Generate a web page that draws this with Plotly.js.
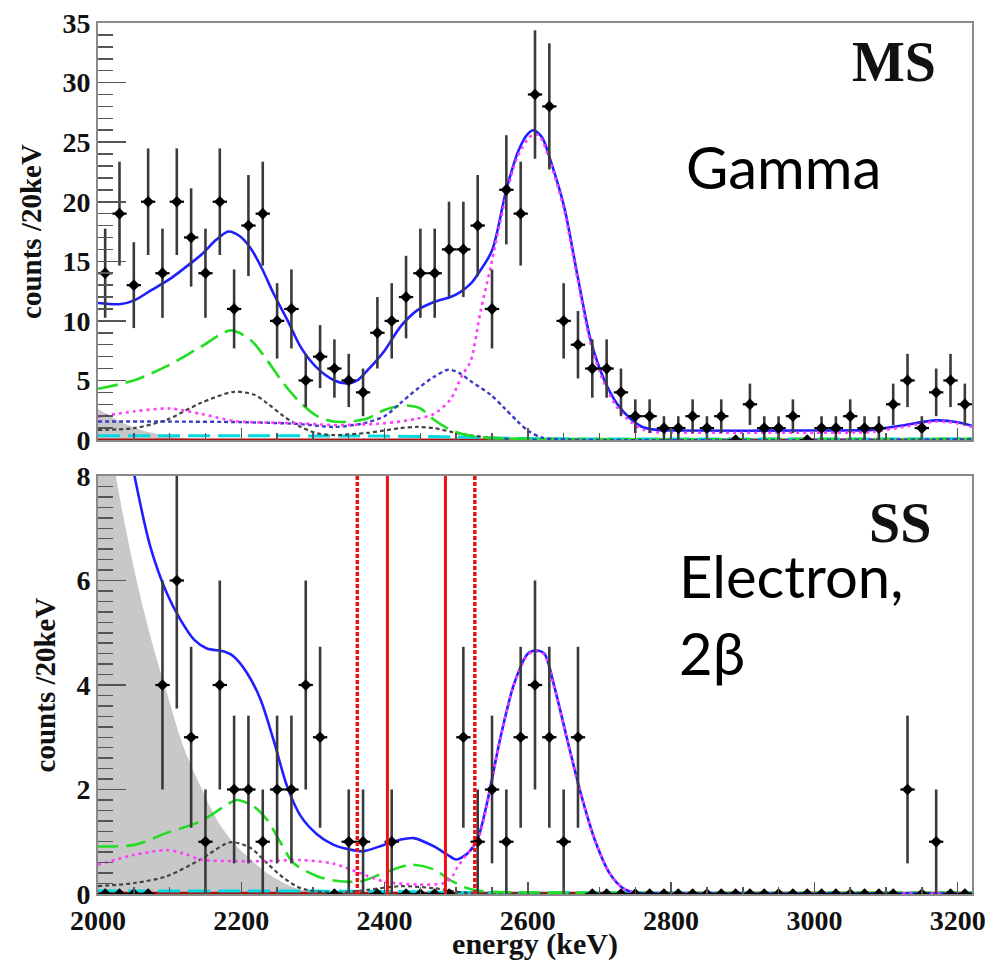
<!DOCTYPE html>
<html><head><meta charset="utf-8">
<script src="https://cdn.plot.ly/plotly-3.0.1.min.js"></script>
<style>html,body{margin:0;padding:0;background:#fff;} #chart{width:990px;height:961px;}</style>
</head><body><div id="chart"></div>
<script>
// ---- data: 20 keV bins ----
const binCenters = [2010,2030,2050,2070,2090,2110,2130,2150,2170,2190,2210,2230,2250,2270,2290,2310,2330,2350,2370,2390,2410,2430,2450,2470,2490,2510,2530,2550,2570,2590,2610,2630,2650,2670,2690,2710,2730,2750,2770,2790,2810,2830,2850,2870,2890,2910,2930,2950,2970,2990,3010,3030,3050,3070,3090,3110,3130,3150,3170,3190,3210];
const msCounts = [14,19,13,20,14,20,17,14,20,11,18,19,10,11,5,7,6,5,4,9,10,12,14,14,16,16,18,11,21,19,29,28,10,8,6,6,4,2,2,1,1,2,1,2,0,3,1,1,2,0,1,1,2,1,1,3,5,1,4,5,3];
const ssCounts = [0,0,0,0,4,6,3,1,4,2,2,1,2,2,4,3,0,1,1,0,1,0,0,0,0,3,1,2,1,3,4,3,1,3,0,0,0,0,0,0,0,0,0,0,0,0,0,0,0,0,0,0,0,0,0,0,2,0,1,0,0];

// ---- MS fit components ----
const msTotalE = [2000,2030,2050,2075,2100,2120,2145,2165,2182,2198,2213,2228,2245,2265,2283,2305,2330,2348,2362,2377,2400,2422,2446,2470,2492,2505,2520,2530,2550,2570,2587,2600,2608,2620,2632,2651,2669,2688,2707,2725,2744,2762,2780,2800,3000,3080,3120,3170,3200,3220];
const msTotalV = [11.5,11.4,11.7,12.6,13.5,14.4,15.6,16.8,17.5,17.1,16.1,14.5,12.3,10.0,7.8,6.1,5.0,4.75,5.0,5.9,7.5,9.5,10.9,11.6,12.0,12.4,13.1,13.9,15.9,21.0,24.3,25.7,26.0,25.4,23.4,19.5,13.9,8.3,5.0,3.0,1.75,1.05,0.85,0.8,0.8,0.85,1.2,1.65,1.5,1.2];
const msGammaE = [2000,2050,2100,2143,2190,2250,2283,2329,2399,2446,2469,2492,2508,2520,2534,2548,2567,2585,2604,2615,2632,2651,2669,2688,2707,2725,2744,2762,2780,2800,3000,3080,3120,3170,3200,3220];
const msGammaV = [1.95,2.4,2.65,2.2,1.6,1.45,1.4,1.26,1.4,1.8,2.2,3.4,5.4,6.6,10.8,14.5,19.8,23.7,25.5,25.6,23.2,19.2,13.6,8.0,4.7,2.7,1.5,0.85,0.65,0.62,0.62,0.68,1.05,1.55,1.4,1.1];
const msBlueDotE = [2000,2100,2200,2280,2330,2370,2400,2422,2446,2469,2489,2505,2520,2548,2567,2585,2601,2620,2650,3220];
const msBlueDotV = [1.55,1.55,1.5,1.35,1.1,1.4,2.0,3.1,4.3,5.3,5.9,5.6,4.95,3.8,2.7,1.6,0.75,0.2,0.05,0.05];
const msGreenE = [2000,2050,2096,2143,2185,2213,2236,2259,2283,2306,2329,2352,2376,2399,2427,2450,2469,2492,2516,2540,2600,3220];
const msGreenV = [4.3,5.0,6.2,7.8,9.2,8.4,6.7,4.75,3.1,2.0,1.55,1.55,1.8,2.5,2.9,2.65,1.7,0.85,0.4,0.2,0.1,0.1];
const msBlackE = [2000,2050,2096,2143,2190,2218,2236,2259,2283,2306,2329,2376,2422,2446,2469,2492,2516,2560,2600,3220];
const msBlackV = [0.85,1.0,1.7,3.1,4.05,3.8,3.1,2.0,1.1,0.56,0.42,0.6,1.0,1.1,1.0,0.7,0.42,0.14,0.05,0.02];
const msCyanE = [2000,2400,2500,2600,3220];
const msCyanV = [0.35,0.33,0.25,0.12,0.1];
const msTwoNuE = [2000,2020,2040,2060,2080,2100,2130,2160];
const msTwoNuV = [2.6,1.9,1.3,0.85,0.55,0.32,0.12,0.02];

// ---- SS fit components ----
const ssTotalE = [2030,2051,2073,2096,2115,2134,2152,2176,2189,2208,2227,2245,2264,2283,2306,2329,2352,2371,2399,2422,2441,2469,2488,2500,2516,2530,2543,2562,2581,2600,2611,2623,2637,2656,2675,2695,2714,2733,2752,2780,3220];
const ssTotalV = [9.6,8.0,6.65,5.76,5.25,4.87,4.7,4.64,4.55,4.23,3.72,2.95,2.06,1.49,1.14,0.94,0.85,0.82,0.94,1.04,1.07,0.91,0.75,0.66,0.78,1.06,1.74,3.01,4.03,4.6,4.66,4.6,3.97,2.9,1.87,0.98,0.4,0.11,0.02,0.01,0.01];
const ssGammaE = [2000,2051,2096,2119,2143,2189,2236,2283,2329,2366,2399,2446,2483,2495,2502,2516,2530,2543,2562,2581,2600,2611,2623,2637,2656,2675,2695,2714,2733,2752,2780,3220];
const ssGammaV = [0.56,0.75,0.84,0.78,0.66,0.63,0.63,0.65,0.58,0.40,0.24,0.18,0.21,0.35,0.52,0.78,1.03,1.7,3.0,4.02,4.58,4.64,4.58,3.95,2.88,1.85,0.97,0.4,0.11,0.02,0.01,0.01];
const ssGreenE = [2000,2051,2096,2143,2180,2194,2217,2236,2255,2273,2306,2329,2366,2399,2436,2469,2492,2516,2539,2600,3220];
const ssGreenV = [0.91,0.94,1.17,1.39,1.71,1.8,1.68,1.42,0.98,0.59,0.34,0.26,0.24,0.40,0.56,0.47,0.26,0.11,0.05,0.03,0.03];
const ssBlackE = [2000,2051,2096,2143,2185,2213,2236,2259,2283,2329,2376,2422,2469,2516,2600,3220];
const ssBlackV = [0.15,0.21,0.34,0.66,0.99,0.88,0.59,0.31,0.11,0.02,0.08,0.15,0.11,0.02,0.01,0.01];
const ssCyanE = [2000,2400,2500,3220];
const ssCyanV = [0.06,0.05,0.03,0.02];
const ssTwoNuE = [2000,2010,2025,2039,2058,2077,2096,2119,2143,2166,2189,2213,2236,2259,2283,2306,2330];
const ssTwoNuV = [10.8,9.5,8.0,6.97,5.76,4.74,3.85,2.83,2.06,1.42,0.98,0.66,0.40,0.21,0.08,0.02,0];
const baseE = [2000,3220];
const baseV = [0.02,0.02];

// ROI lines (keV)
const roiSolid = [2404,2485];
const roiDotted = [2362,2526];

const yTicksMS = [0,5,10,15,20,25,30,35];
const yTicksSS = [0,2,4,6,8];
const xTicks = [2000,2200,2400,2600,2800,3000,3200];

// ---- styles ----
const BLUE = '#1f1fff', MAG = '#ff3cff', DBLUE = '#3c3cc8', GREEN = '#22dd22', GREY = '#444444', CYAN = '#00d8e0', RED = '#ee1111', DRED = '#aa1010';

function line(x, y, xa, ya, color, dash, width) {
  return {x: x, y: y, xaxis: xa, yaxis: ya, type: 'scatter', mode: 'lines',
    line: {color: color, dash: dash, width: width, shape: 'spline', smoothing: 0.8}, hoverinfo: 'skip', showlegend: false};
}
function fillTr(x, y, xa, ya) {
  return {x: x, y: y, xaxis: xa, yaxis: ya, type: 'scatter', mode: 'lines', fill: 'tozeroy',
    fillcolor: '#c8c8c8', line: {color: '#c8c8c8', width: 0, shape: 'spline', smoothing: 0.8}, hoverinfo: 'skip', showlegend: false};
}
function pts(y, xa, ya) {
  return {x: binCenters, y: y, xaxis: xa, yaxis: ya, type: 'scatter', mode: 'markers',
    marker: {symbol: 'diamond', size: 9, color: '#000'},
    error_y: {type: 'data', array: y.map(v => Math.sqrt(v)), visible: true, color: '#3a3a3a', thickness: 2.6, width: 0},
    error_x: {type: 'constant', value: 10, visible: true, color: '#000', thickness: 2.2, width: 0},
    showlegend: false};
}

const traces = [
  fillTr(msTwoNuE, msTwoNuV, 'x2', 'y2'),
  line(baseE, baseV, 'x2', 'y2', DRED, 'solid', 2.5),
  line(msCyanE, msCyanV, 'x2', 'y2', CYAN, '22px,8px', 3),
  line(msBlackE, msBlackV, 'x2', 'y2', GREY, '4px,3px', 2.2),
  line(msGreenE, msGreenV, 'x2', 'y2', GREEN, '20px,8px', 2.6),
  line(msBlueDotE, msBlueDotV, 'x2', 'y2', DBLUE, '4px,3px', 2.4),
  line(msTotalE, msTotalV, 'x2', 'y2', BLUE, 'solid', 2.6),
  line(msGammaE, msGammaV, 'x2', 'y2', MAG, '3px,4px', 2.6),
  pts(msCounts, 'x2', 'y2'),

  fillTr(ssTwoNuE, ssTwoNuV, 'x', 'y'),
  line(baseE, baseV, 'x', 'y', DRED, 'solid', 2.5),
  line(ssCyanE, ssCyanV, 'x', 'y', CYAN, '22px,8px', 3),
  line(ssBlackE, ssBlackV, 'x', 'y', GREY, '4px,3px', 2.2),
  line(ssGreenE, ssGreenV, 'x', 'y', GREEN, '20px,8px', 2.6),
  line(ssTotalE, ssTotalV, 'x', 'y', BLUE, 'solid', 2.6),
  line(ssGammaE, ssGammaV, 'x', 'y', MAG, '3px,4px', 2.6),
  pts(ssCounts, 'x', 'y')
];

const tickFont = {family: 'Liberation Serif, Times New Roman, serif', size: 28, color: '#111', weight: 'bold'};
const titleFont = {family: 'Liberation Serif, Times New Roman, serif', size: 29, color: '#111', weight: 'bold'};

function xAxis(anchor, showLabels) {
  return {anchor: anchor, domain: [0, 1], range: [2000, 3220], tickmode: 'array', tickvals: xTicks,
    showticklabels: showLabels, tickfont: tickFont, ticks: 'inside', ticklen: 12, tickwidth: 1.5, tickcolor: '#555',
    minor: {dtick: 50, ticks: 'inside', ticklen: 7, tickwidth: 1.5, tickcolor: '#555'},
    showline: true, mirror: true, linecolor: '#8a8a8a', linewidth: 2, showgrid: false, zeroline: false, fixedrange: true};
}
function yAxis(anchor, domain, range, tickvals, minorD) {
  return {anchor: anchor, domain: domain, range: range, tickmode: 'array', tickvals: tickvals,
    tickfont: tickFont, ticks: 'inside', ticklen: 28, tickwidth: 1.6, tickcolor: '#555',
    minor: {dtick: minorD, ticks: 'inside', ticklen: 15, tickwidth: 1.5, tickcolor: '#555'},
    showline: true, mirror: true, linecolor: '#8a8a8a', linewidth: 2, showgrid: false, zeroline: false, fixedrange: true,
    title: {text: 'counts /20keV', font: titleFont, standoff: 12}};
}

const layout = {
  width: 990, height: 961,
  margin: {l: 98, r: 18, t: 23, b: 67},
  paper_bgcolor: '#fff', plot_bgcolor: '#fff',
  showlegend: false,
  xaxis: Object.assign(xAxis('y', true), {title: {text: 'energy (keV)', font: Object.assign({}, titleFont, {size: 30}), standoff: 14}}),
  yaxis: yAxis('x', [0, 0.4799], [0, 8], yTicksSS, 0.2),
  xaxis2: xAxis('y2', false),
  yaxis2: yAxis('x2', [0.5212, 1], [0, 35], yTicksMS, 1),
  shapes: [].concat(
    roiSolid.map(e => ({type: 'line', xref: 'x', yref: 'y domain', x0: e, x1: e, y0: 0, y1: 1, line: {color: RED, width: 3}})),
    roiDotted.map(e => ({type: 'line', xref: 'x', yref: 'y domain', x0: e, x1: e, y0: 0, y1: 1, line: {color: RED, width: 3.5, dash: '4px,2px'}}))
  ),
  annotations: [
    {text: 'MS', xref: 'paper', yref: 'paper', x: 0.961, y: 0.9547, xanchor: 'right', yanchor: 'middle', showarrow: false,
     font: {family: 'Liberation Serif, Times New Roman, serif', size: 56, color: '#111', weight: 'bold'}},
    {text: 'SS', xref: 'paper', yref: 'paper', x: 0.9554, y: 0.4258, xanchor: 'right', yanchor: 'middle', showarrow: false,
     font: {family: 'Liberation Serif, Times New Roman, serif', size: 56, color: '#111', weight: 'bold'}},
    {text: 'Gamma', xref: 'paper', yref: 'paper', x: 0.6705, y: 0.8352, xanchor: 'left', yanchor: 'middle', showarrow: false,
     font: {family: 'Lato, Open Sans, sans-serif', size: 58, color: '#000'}},
    {text: 'Electron,', xref: 'paper', yref: 'paper', x: 0.6625, y: 0.3655, xanchor: 'left', yanchor: 'middle', showarrow: false,
     font: {family: 'Lato, Open Sans, sans-serif', size: 58, color: '#000'}},
    {text: '2β', xref: 'paper', yref: 'paper', x: 0.6625, y: 0.2767, xanchor: 'left', yanchor: 'middle', showarrow: false,
     font: {family: 'Lato, Open Sans, sans-serif', size: 58, color: '#000'}}
  ]
};

Plotly.newPlot('chart', traces, layout, {displayModeBar: false, staticPlot: true});
</script>
</body></html>
